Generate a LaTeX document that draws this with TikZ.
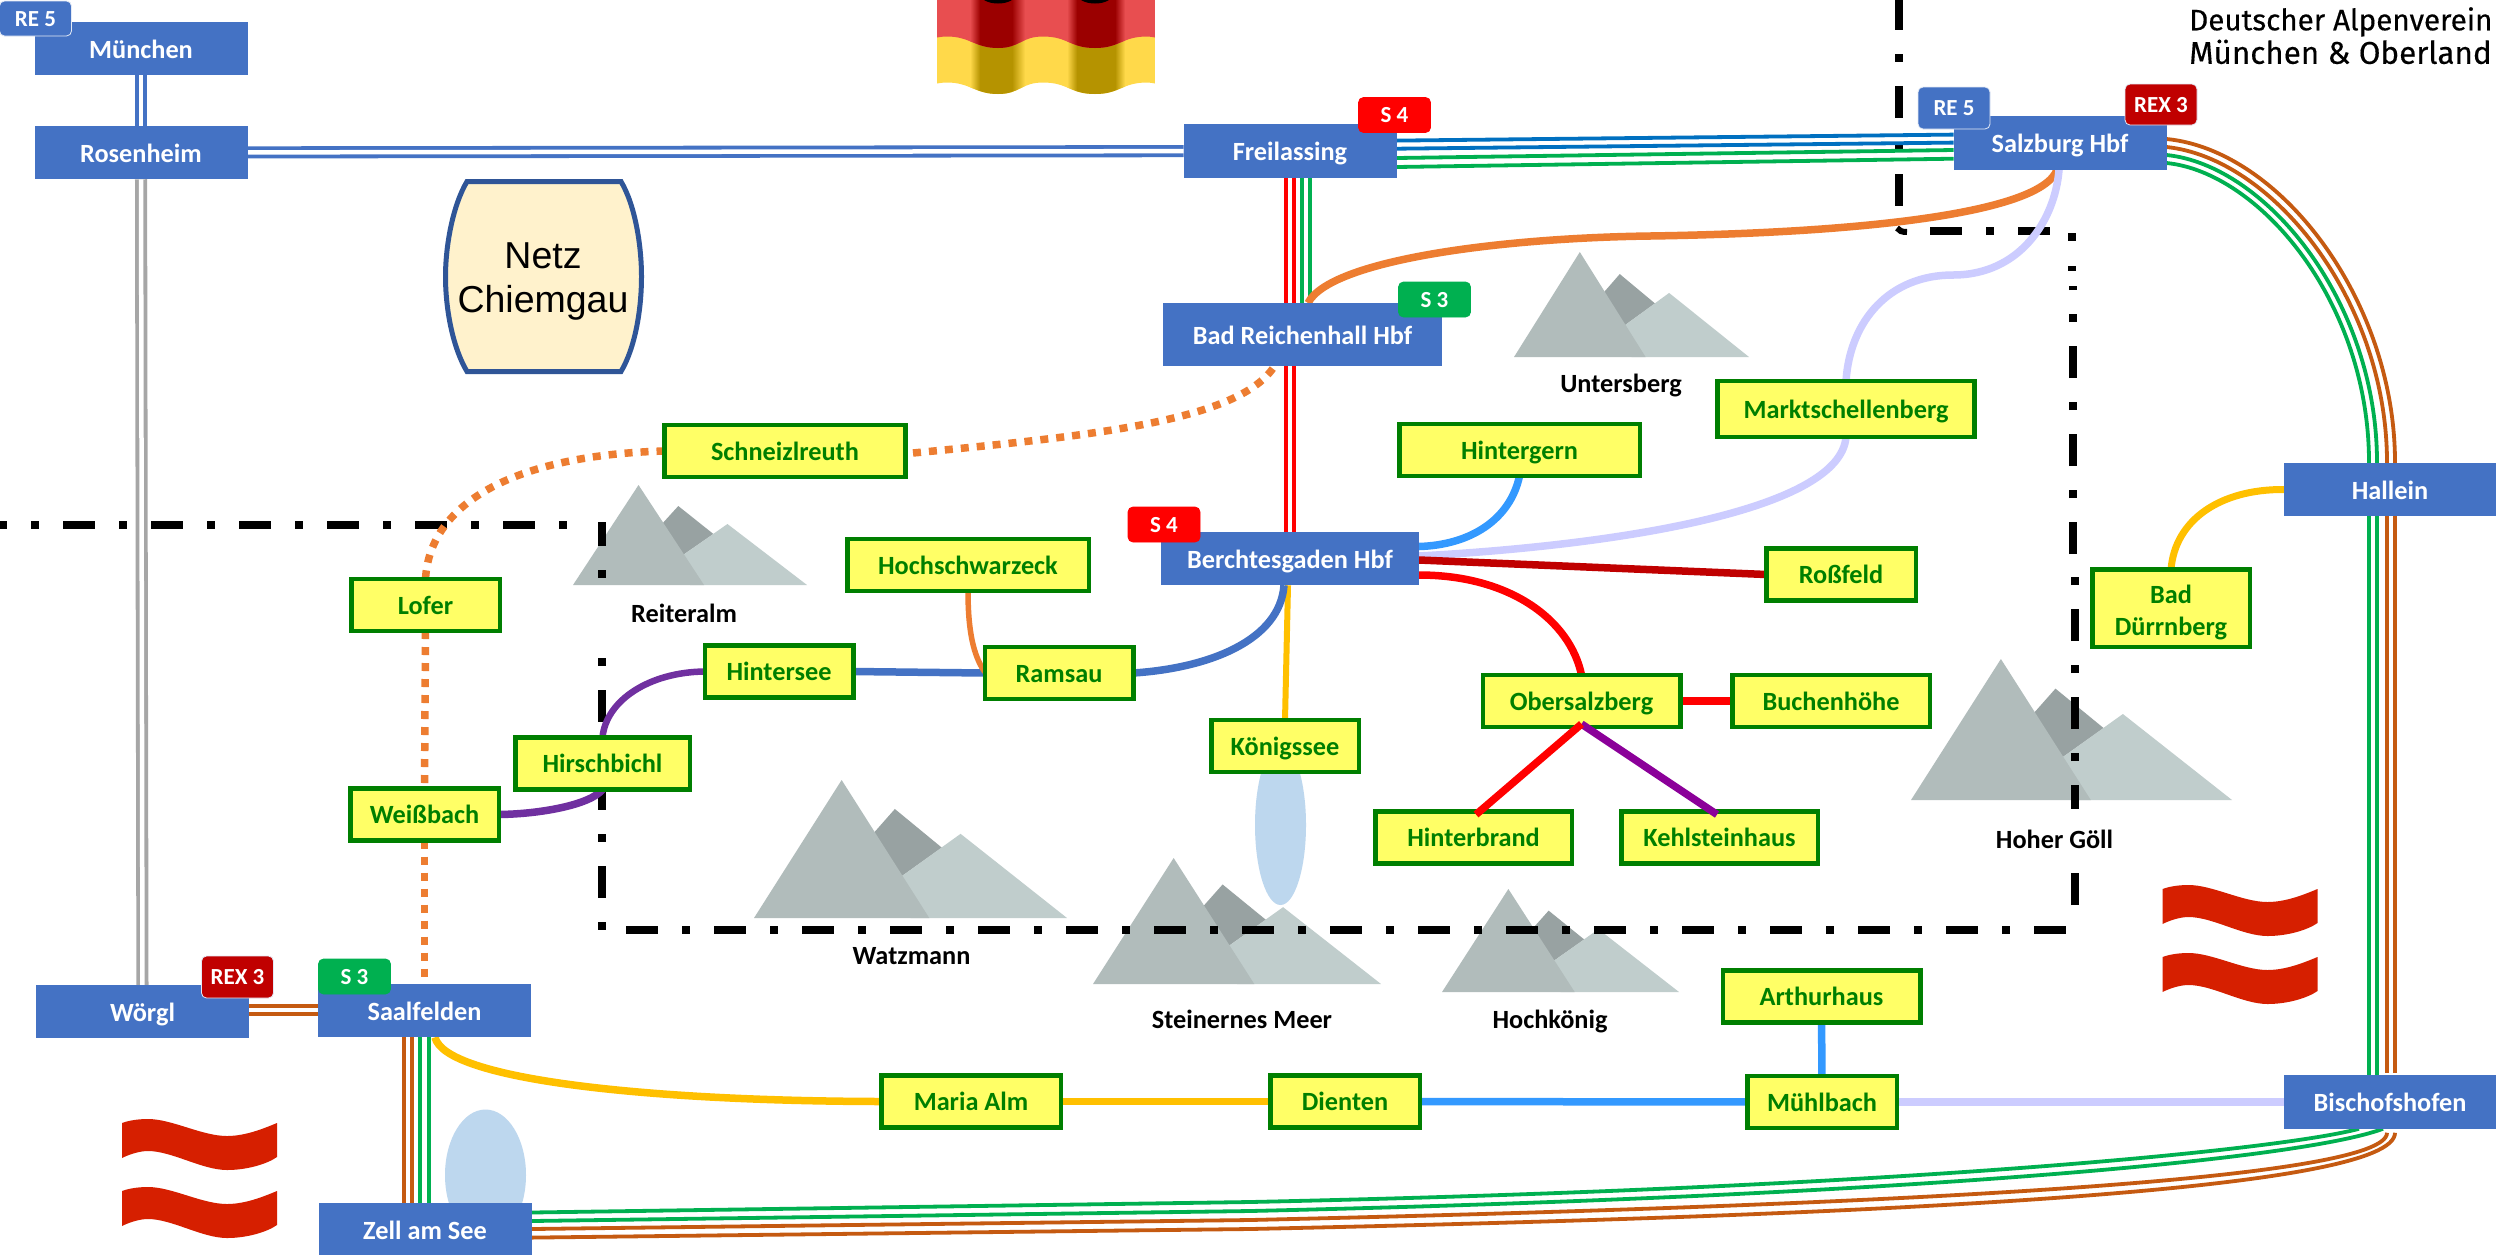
\documentclass[tikz,border=0pt]{standalone}
\usepackage{fontspec}
\setmainfont{Carlito}
\newfontfamily\netzfont{Liberation Sans}
\newfontfamily\davfont[FakeBold=0.3]{Fira Sans}
\usetikzlibrary{calc}
\pgfdeclarelayer{back}
\pgfdeclarelayer{border}
\pgfdeclarelayer{mask}
\pgfdeclarelayer{lines}
\pgfsetlayers{back,border,mask,lines,main}
\definecolor{nodeblue}{HTML}{4472C4}
\definecolor{lineblue}{HTML}{0070C0}
\definecolor{linegreen}{HTML}{00B050}
\definecolor{linebrown}{HTML}{C55A11}
\definecolor{linegray}{HTML}{A6A6A6}
\definecolor{linegold}{HTML}{FFC000}
\definecolor{lineorange}{HTML}{ED7D31}
\definecolor{linesky}{HTML}{3399FF}
\definecolor{linelav}{HTML}{CCCCFF}
\definecolor{linedred}{HTML}{C00000}
\definecolor{linepurple}{HTML}{7030A0}
\definecolor{linemag}{HTML}{8B0099}
\definecolor{stopfill}{HTML}{FFFF66}
\definecolor{stopgreen}{HTML}{007F00}
\definecolor{lakeblue}{HTML}{BDD7EE}
\definecolor{mtmain}{HTML}{B1BCBB}
\definecolor{mtdark}{HTML}{98A2A2}
\definecolor{mtlight}{HTML}{C0CDCC}
\definecolor{atred}{HTML}{D61F00}
\definecolor{deredA}{HTML}{E84E50}
\definecolor{deredB}{HTML}{9B0000}
\definecolor{degoldA}{HTML}{FFD94A}
\definecolor{degoldB}{HTML}{B59300}
\definecolor{netzfill}{HTML}{FFF2CC}
\definecolor{netzline}{HTML}{2F5597}
\tikzset{
  hub/.style={fill=nodeblue,inner sep=0pt,outer sep=0pt,minimum width=213pt,minimum height=53.5pt,
    text=white,font=\fontsize{26.3}{30}\selectfont\bfseries,text height=24pt,text depth=5pt},
  stopbase/.style={fill=stopfill,draw=stopgreen,line width=4.5pt,inner sep=0pt,outer sep=0pt,
    minimum width=148.5pt,minimum height=52pt,text=stopgreen,align=center,
    font=\fontsize{26.3}{32}\selectfont\bfseries},
  stopbox/.style={stopbase,text height=23pt,text depth=5pt},
  badge/.style={rounded corners=5pt,draw=white!85!nodeblue,line width=0.8pt,inner sep=0pt,
    minimum width=72pt,minimum height=35pt,text=white,
    font=\fontsize{23}{26}\selectfont\bfseries,text height=15pt,text depth=0pt},
  mtlabel/.style={fill=white,inner sep=0pt,text=black,font=\fontsize{26.3}{30}\selectfont\bfseries},
  pair/.style={line width=3.8pt,double distance=4.5pt,line cap=butt},
  thin rail/.style={line width=3.8pt,line cap=butt},
  route/.style={line width=7.5pt,line cap=butt},
  dotted route/.style={line width=7.5pt,color=lineorange,dash pattern=on 8pt off 8pt},
  frontier/.style={line width=8pt,color=black,dash pattern=on 32pt off 24pt on 8pt off 24pt},
}
\newcommand{\mountainshape}[4]{%
  \begin{scope}[shift={(#1,#2)},x=#3pt,y=-#4pt]
    \fill[mtdark] (.45,.21) -- (.6,.49) -- (.47,.7) -- (.38,.39) -- cycle;
    \fill[mtlight] (.66,.39) -- (1,1) -- (.5,1) -- (.47,.7) -- cycle;
    \fill[mtmain] (.28,0) -- (0,1) -- (.56,1) -- cycle;
  \end{scope}}
\newcommand{\atflag}[2]{%
  \begin{scope}[shift={(#1,#2)}]
    \fill[atred] (0,4) .. controls (8,1) and (18,0) .. (26,0) .. controls (50,0) and (80,17) .. (105,17)
      .. controls (125,17) and (145,8) .. (155,4) -- (155,38)
      .. controls (145,45) and (125,51) .. (105,51) .. controls (80,51) and (50,32) .. (26,32)
      .. controls (18,32) and (8,35) .. (0,39) -- cycle;
    \fill[atred] (0,72) .. controls (8,69) and (18,68) .. (26,68) .. controls (50,68) and (80,85) .. (105,85)
      .. controls (125,85) and (145,76) .. (155,72) -- (155,106)
      .. controls (145,113) and (125,119) .. (105,119) .. controls (80,119) and (50,100) .. (26,100)
      .. controls (18,100) and (8,103) .. (0,107) -- cycle;
  \end{scope}}
\newcommand{\flagwave}[1]{(937,{37.5+#1}) .. controls (940,{37+#1}) and (943,{36.5+#1}) .. (947,{36.5+#1})
  .. controls (970,{36.5+#1}) and (975,{48+#1}) .. (998,{48+#1})
  .. controls (1020,{48+#1}) and (1021,{36.5+#1}) .. (1043,{36.5+#1})
  .. controls (1068,{36.5+#1}) and (1070,{48+#1}) .. (1095,{48+#1})
  .. controls (1120,{48+#1}) and (1122,{36.5+#1}) .. (1147,{36.5+#1})
  .. controls (1150,{36.5+#1}) and (1152,{37+#1}) .. (1155,{37.5+#1})}
\newcommand{\flagbands}[2]{%
  \fill[#1] (937,-10) rectangle (1155,110);
  \fill[#2] (980,-10) rectangle (1012,110);
  \fill[#2] (1077,-10) rectangle (1115,110);
  \shade[left color=#1,right color=#2] (970,-10) rectangle (980,110);
  \shade[left color=#2,right color=#1] (1012,-10) rectangle (1025,110);
  \shade[left color=#1,right color=#2] (1067,-10) rectangle (1077,110);
  \shade[left color=#2,right color=#1] (1115,-10) rectangle (1125,110);}
\begin{document}
\begin{tikzpicture}[x=1pt,y=-1pt]
\useasboundingbox (0,0) rectangle (2496,1254);

% ---------- scenery
\begin{pgfonlayer}{back}
  \fill[white] (0,0) rectangle (2496,1254);
  \mountainshape{573}{485}{234}{100}
  \mountainshape{1514}{252}{235}{105}
  \mountainshape{754}{780}{313}{138}
  \mountainshape{1093}{858}{288}{126}
  \mountainshape{1442}{889}{237}{103}
  \mountainshape{1911}{659}{321}{141}
  \fill[lakeblue] (1280.5,825) ellipse [x radius=25.5,y radius=80];
  \fill[lakeblue] (485.5,1175) ellipse [x radius=40.5,y radius=65.5];
  \atflag{122}{1119}
  \atflag{2162.5}{885}
  \begin{scope}
    \clip \flagwave{46} -- (1155,-10) -- (937,-10) -- cycle;
    \flagbands{degoldA}{degoldB}
  \end{scope}
  \begin{scope}
    \clip \flagwave{0} -- (1155,-10) -- (937,-10) -- cycle;
    \flagbands{deredA}{deredB}
    \fill[black] (998,-6) ellipse [x radius=18,y radius=9.5];
    \fill[black] (1095,-6) ellipse [x radius=18,y radius=9.5];
  \end{scope}
\end{pgfonlayer}

% ---------- frontier
\begin{pgfonlayer}{border}
  \draw[frontier] (-25,525) -- (570,525);
  \draw[frontier,dash phase=8pt] (602,522) -- (602,930);
  \draw[frontier] (626,930) -- (2067,930);
  \draw[frontier] (2075,905) -- (2075,570);
  \draw[frontier] (2073,554) -- (2073,286);
  \draw[line width=8pt] (2072,233) -- (2072,241);
  \draw[line width=5pt] (2068,268.5) -- (2076,268.5);
  \draw[frontier] (1899,-2) -- (1899,206);
  \draw[line width=6pt] (1897,228) .. controls (1899,231) and (1902,232) .. (1907,232);
  \draw[frontier] (1930,231) -- (2051,231);
\end{pgfonlayer}

% ---------- mountain labels
\begin{pgfonlayer}{mask}
  \node[mtlabel,minimum width=182pt,minimum height=44pt] (lreit) at (684,613) {Reiteralm};
  \node[mtlabel] (lunt) at (1621,385.5) {Untersberg};
  \node[mtlabel] (lwat) at (911.5,956.5) {Watzmann};
  \node[mtlabel] (lste) at (1242,1019) {Steinernes Meer};
  \node[mtlabel] (lhoc) at (1550,1021) {Hochkönig};
  \node[mtlabel,minimum width=170pt,minimum height=60pt] (lgoe) at (2054.5,839) {Hoher Göll};
\end{pgfonlayer}

% ---------- stations
\node[hub] (mun) at (141,48.5) {München};
\node[hub] (ros) at (141,152.5) {Rosenheim};
\node[hub] (fre) at (1290,151) {Freilassing};
\node[hub,minimum width=279pt,minimum height=63pt] (rei) at (1302.5,334.5) {Bad Reichenhall Hbf};
\node[hub,minimum width=258pt] (ber) at (1290,558.5) {Berchtesgaden Hbf};
\node[hub] (sal) at (2060,143) {Salzburg Hbf};
\node[hub,minimum width=212pt] (hal) at (2390,489.5) {Hallein};
\node[hub,minimum width=212pt] (bis) at (2390,1102) {Bischofshofen};
\node[hub] (wor) at (142.5,1011.5) {Wörgl};
\node[hub] (saa) at (424.5,1010.5) {Saalfelden};
\node[hub] (zel) at (425,1230) {Zell am See};

\node[stopbox,minimum width=241pt] (sch) at (785,451) {Schneizlreuth};
\node[stopbox] (lof) at (425.5,605) {Lofer};
\node[stopbox,minimum width=241.5pt] (hoc) at (968,565) {Hochschwarzeck};
\node[stopbox,minimum width=257pt,minimum height=56pt] (mar) at (1846,409) {Marktschellenberg};
\node[stopbox,minimum width=240.5pt] (hig) at (1519.5,450) {Hintergern};
\node[stopbox,minimum width=149.5pt] (rof) at (1841,574.5) {Roßfeld};
\node[stopbase,minimum width=157.5pt,minimum height=77.5pt] (dur) at (2171,608) {\rule{0pt}{27pt}Bad\\Dürrnberg};
\node[stopbox] (hse) at (779,671.5) {Hintersee};
\node[stopbox] (ram) at (1059,673) {Ramsau};
\node[stopbox,minimum width=174.5pt] (hir) at (602.5,763.5) {Hirschbichl};
\node[stopbox] (wei) at (424.5,814.5) {Weißbach};
\node[stopbox,minimum width=179.5pt] (mal) at (971,1101.5) {Maria Alm};
\node[stopbox,minimum width=147.5pt] (koe) at (1285,746) {Königssee};
\node[stopbox,minimum width=197.5pt] (obe) at (1581.5,701) {Obersalzberg};
\node[stopbox,minimum width=197.5pt] (buc) at (1831,701) {Buchenhöhe};
\node[stopbox,minimum width=196.5pt] (hbr) at (1473.5,837.5) {Hinterbrand};
\node[stopbox,minimum width=196.5pt] (keh) at (1719.5,837.5) {Kehlsteinhaus};
\node[stopbox,minimum width=197.5pt] (art) at (1821.5,996.5) {Arthurhaus};
\node[stopbox,minimum width=149.5pt] (muh) at (1822,1102) {Mühlbach};
\node[stopbox,minimum width=149.5pt] (die) at (1345,1101.5) {Dienten};

% ---------- badges
\node[badge,fill=nodeblue] (bre1) at (35.5,18.5) {RE 5};
\node[badge,fill=red,draw=red] (bs41) at (1394.5,115) {S 4};
\node[badge,fill=red,draw=red] (bs42) at (1164,524.5) {S 4};
\node[badge,fill=linegreen,draw=linegreen] (bs31) at (1434.5,299.5) {S 3};
\node[badge,fill=linegreen,draw=linegreen] (bs32) at (354.5,976.5) {S 3};
\node[badge,fill=nodeblue,minimum height=42pt] (bre2) at (1954,108) {RE 5};
\node[badge,fill=linedred,minimum height=41pt] (brx1) at (2161,104.5) {REX 3};
\node[badge,fill=linedred,minimum height=42pt] (brx2) at (237.5,977) {REX 3};

% ---------- Netz Chiemgau
\draw[line width=5pt,draw=netzline,fill=netzfill]
  (467,181.5) -- (621,181.5)
  .. controls (635,205) and (641.5,245) .. (641.5,276.5)
  .. controls (641.5,310) and (635,348) .. (621,371.5)
  -- (467,371.5)
  .. controls (453,348) and (445.5,310) .. (445.5,276.5)
  .. controls (445.5,245) and (453,205) .. (467,181.5) -- cycle;
\node[align=center,inner sep=0pt,font=\netzfont\fontsize{37.5}{44}\selectfont] (netz) at (543,281) {Netz\\Chiemgau};

\node[anchor=north west,align=left,inner sep=0pt,font=\davfont\fontsize{29.6}{33.5}\selectfont] (dav) at (2189,7) {Deutscher Alpenverein\\\fontsize{31.4}{33.5}\selectfont München \& Oberland};

% ---------- connectors over the stations
\draw[route,linemag] ([yshift=3]obe.south) -- ([xshift=-2.5,yshift=-3]keh.north);
\draw[route,red] ([yshift=3]obe.south) -- ([xshift=2.5,yshift=-3]hbr.north);

% ---------- connectors
\begin{pgfonlayer}{lines}
  \draw[pair,nodeblue] (mun) -- (ros);
  \draw[pair,linegray] (ros) -- (wor);
  \draw[pair,nodeblue] (ros) -- (fre);
  \draw[pair,red] (fre) -- (ber);
  \draw[pair,linegreen] ([xshift=16]fre.south) -- ([xshift=3.5]rei.north);

  \draw[thin rail,lineblue] ([yshift=10.4]fre.east) -- ([yshift=8.4]sal.west);
  \draw[thin rail,lineblue] ([yshift=2.3]fre.east) -- ([yshift=0.4]sal.west);
  \draw[thin rail,linegreen] ([yshift=-7]fre.east) -- ([yshift=-7]sal.west);
  \draw[thin rail,linegreen] ([yshift=-16]fre.east) -- ([yshift=-15.7]sal.west);

  \draw[thin rail,linebrown] ([yshift=4]sal.east) .. controls (2280,150) and (2395,300) .. ([xshift=5]hal.north);
  \draw[thin rail,linebrown] ([yshift=-4]sal.east) .. controls (2272,158) and (2387,300) .. ([xshift=-3]hal.north);
  \draw[thin rail,linegreen] ([yshift=-12]sal.east) .. controls (2265,165) and (2377,300) .. ([xshift=-13]hal.north);
  \draw[thin rail,linegreen] ([yshift=-20]sal.east) .. controls (2258,172) and (2369,300) .. ([xshift=-21]hal.north);

  \draw[thin rail,linebrown] ([xshift=5]hal.south) -- ([xshift=5,yshift=2]bis.north);
  \draw[thin rail,linebrown] ([xshift=-3]hal.south) -- ([xshift=-3,yshift=2]bis.north);
  \draw[thin rail,linegreen] ([xshift=-13]hal.south) -- ([xshift=-13]bis.north);
  \draw[thin rail,linegreen] ([xshift=-21]hal.south) -- ([xshift=-21]bis.north);

  \draw[thin rail,linebrown] ([yshift=-7.6]zel.east) -- (1250,1229) .. controls (1900,1215) and (2395,1190) .. ([xshift=5,yshift=-4]bis.south);
  \draw[thin rail,linebrown] ([yshift=1]zel.east) -- (1250,1220) .. controls (1900,1205) and (2387,1180) .. ([xshift=-3,yshift=-4]bis.south);
  \draw[thin rail,linegreen] ([yshift=9]zel.east) -- (1250,1211) .. controls (1900,1196) and (2300,1160) .. ([xshift=-7]bis.south);
  \draw[thin rail,linegreen] ([yshift=17.5]zel.east) -- (1250,1202) .. controls (1900,1188) and (2280,1150) .. ([xshift=-31]bis.south);

  \draw[thin rail,linebrown] ([yshift=5.5]wor.east) -- ([yshift=4.5]saa.west);
  \draw[thin rail,linebrown] ([yshift=-2.5]wor.east) -- ([yshift=-3.5]saa.west);
  \draw[thin rail,linebrown] ([xshift=-20.5]saa.south) -- ([xshift=-21]zel.north);
  \draw[thin rail,linebrown] ([xshift=-12.5]saa.south) -- ([xshift=-13]zel.north);
  \draw[thin rail,linegreen] ([xshift=-4.5]saa.south) -- ([xshift=-5]zel.north);
  \draw[thin rail,linegreen] ([xshift=4.5]saa.south) -- ([xshift=4]zel.north);

  \draw[route,lineorange] ([xshift=-3]sal.south) .. controls (2040,215) and (1850,233) .. (1650,236)
     .. controls (1500,238) and (1330,260) .. ([xshift=5.5]rei.north);
  \coordinate (lavbend) at (1953,275);
  \draw[route,linelav] ([xshift=-1]sal.south) .. controls (2055,220) and (2020,275) .. (lavbend)
     .. controls (1890,275) and (1850,320) .. (mar.north);
  \draw[route,linelav] (mar.south) .. controls (1840,510) and (1620,545) .. ([yshift=2.5]ber.east);
  \draw[route,linesky] ([yshift=12]ber.east) .. controls (1470,545) and (1510,520) .. (hig.south);
  \draw[route,linedred] ([yshift=-1.5]ber.east) -- (rof.west);
  \draw[route,red] ([yshift=-16.5]ber.east) .. controls (1510,575) and (1570,620) .. (obe.north);
  \draw[route,red] (obe.east) -- (buc.west);
  \draw[line width=6pt,linegold] ([xshift=-2]ber.south) -- (koe.north);
  \draw[route,nodeblue] ([xshift=-6]ber.south) .. controls (1280,640) and (1210,668) .. (ram.east);
  \draw[route,nodeblue] (ram.west) -- (hse.east);
  \draw[line width=5.5pt,lineorange] (hoc.south) .. controls (968,630) and (973,655) .. ([yshift=1]ram.west);
  \draw[line width=6.5pt,linepurple] (hse.west) .. controls (650,672) and (606,700) .. (hir.north);
  \draw[route,linepurple] (hir.south) .. controls (590,805) and (540,814) .. (wei.east);

  \draw[route,linegold] ([xshift=10.5]saa.south) .. controls (445,1080) and (650,1101) .. (mal.west);
  \draw[route,linegold] (mal) -- (die);
  \draw[route,linesky] (die) -- (muh);
  \draw[route,linelav] (muh) -- (bis);
  \draw[route,linesky] (art) -- (muh);
  \draw[line width=7pt,linegold] (hal.west) .. controls (2220,489) and (2175,520) .. (dur.north);

  \draw[dotted route] ([xshift=7.5,yshift=-2]sch.east) .. controls (1100,435) and (1240,420) .. ([xshift=-28]rei.south);
  \draw[dotted route] (sch.west) .. controls (520,455) and (430,500) .. (lof.north);
  \draw[dotted route] (lof.south) -- (wei.north);
  \draw[dotted route] (wei.south) -- (saa.north);
\end{pgfonlayer}
\end{tikzpicture}
\end{document}
